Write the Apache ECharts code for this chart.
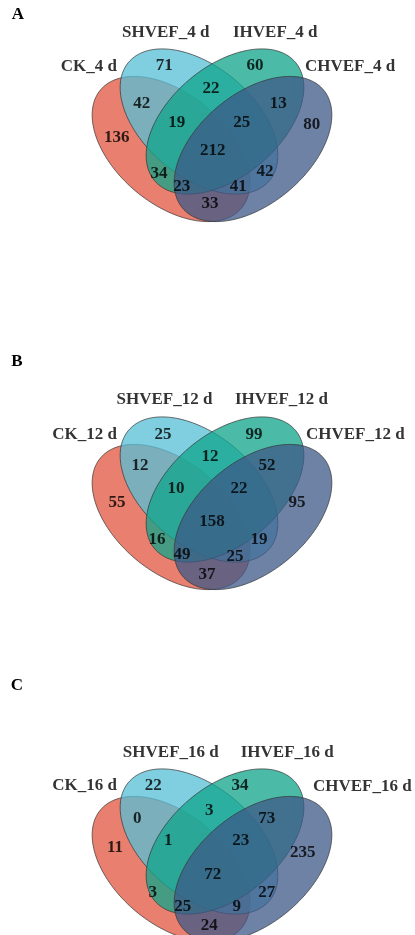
<!DOCTYPE html>
<html><head><meta charset="utf-8">
<script src="https://cdn.jsdelivr.net/npm/echarts@6/dist/echarts.min.js"></script>
<style>html,body{margin:0;padding:0;background:#fff}#c{width:415px;height:935px}</style>
</head><body><div id="c"></div>
<script>
// ---------- DATA ----------
const panelLetters = ['A', 'B', 'C'];
const setNamesA = ['CK_4 d', 'SHVEF_4 d', 'IHVEF_4 d', 'CHVEF_4 d'];
const setNamesB = ['CK_12 d', 'SHVEF_12 d', 'IHVEF_12 d', 'CHVEF_12 d'];
const setNamesC = ['CK_16 d', 'SHVEF_16 d', 'IHVEF_16 d', 'CHVEF_16 d'];
// region order: CK, SH, IH, CH, CK∩SH, SH∩IH, IH∩CH, CK∩SH∩IH, SH∩IH∩CH, all, CK∩IH, SH∩CH, CK∩IH∩CH, CK∩SH∩CH, CK∩CH
const regionKeys = ['A','B','C','D','AB','BC','CD','ABC','BCD','ABCD','AC','BD','ACD','ABD','AD'];
const countsA = [136, 71, 60, 80, 42, 22, 13, 19, 25, 212, 34, 42, 23, 41, 33];
const countsB = [55, 25, 99, 95, 12, 12, 52, 10, 22, 158, 16, 19, 49, 25, 37];
const countsC = [11, 22, 34, 235, 0, 3, 73, 1, 23, 72, 3, 27, 25, 9, 24];

// ---------- LAYOUT (panel-local units, 1 unit = 1 px) ----------
const panelTops = [0, 368, 720];
const panelHeight = 215;
const letterPos = [[18, 15], [17, 362], [17, 686]];
const ellipseShapes = [ // cx, cy, a, b, angle(deg)
  [171, 149, 92, 55, 40],
  [199, 121.5, 92, 55, 40],
  [225, 121.5, 92, 55, -40],
  [253, 149, 92, 55, -40]
];
const ellipseFills = ['rgba(226,84,62,0.75)', 'rgba(85,191,215,0.75)', 'rgba(15,164,139,0.75)', 'rgba(62,88,135,0.75)'];
const regionPosA = [[116.7,137.3],[164.3,66],[255,66],[311.7,125],[141.7,104],[211,88.3],[278.3,104],[176.7,122.7],[241.7,122.7],[212.7,150.7],[159,173.3],[265,171.7],[181.7,186.7],[238.3,186.7],[210,204]];
const regionPosB = [[117,135],[163,67],[254,67],[297,135],[140,97.7],[210,89],[267,97.7],[176,121],[239,121],[212,154],[157,172],[259,172],[182,187],[235,189],[207,207]];
const regionPosC = [[115,127.7],[153.3,65.7],[240,65.7],[302.7,132.3],[137.3,99],[209.3,90.7],[266.7,99],[168.3,120.7],[240.7,120.7],[212.7,154.3],[152.7,172.7],[266.7,172.7],[182.7,186.7],[236.7,186.7],[209.3,206]];
// set label anchors: [x, y, align]
const setLabelPosA = [[117,67,'right'],[165.7,33,'center'],[233,33,'left'],[305,67,'left']];
const setLabelPosB = [[117,67,'right'],[164.5,32,'center'],[235,32,'left'],[306,67,'left']];
const setLabelPosC = [[117,66,'right'],[170.8,33,'center'],[240.7,33,'left'],[313,67,'left']];

const FONT = '"Liberation Serif","Times New Roman",serif';
const panels = [
  {names: setNamesA, counts: countsA, pos: regionPosA, lab: setLabelPosA},
  {names: setNamesB, counts: countsB, pos: regionPosB, lab: setLabelPosB},
  {names: setNamesC, counts: countsC, pos: regionPosC, lab: setLabelPosC}
];

const textStyle = {color: '#000', fontFamily: FONT, fontWeight: 'bold', fontSize: 17,
  textBorderWidth: 0, textShadowBlur: 0};

const grids = [], xAxes = [], yAxes = [], series = [];
panels.forEach((p, i) => {
  grids.push({left: 0, top: panelTops[i], width: 415, height: panelHeight});
  xAxes.push({type: 'value', gridIndex: i, min: 0, max: 415, show: false});
  yAxes.push({type: 'value', gridIndex: i, min: 0, max: panelHeight, inverse: true, show: false});
  series.push({
    type: 'custom', xAxisIndex: i, yAxisIndex: i, silent: true, clip: false,
    data: ellipseShapes.map((e, k) => [k]),
    renderItem: (params, api) => {
      const k = api.value(0);
      const [cx, cy, a, b, ang] = ellipseShapes[k];
      const phi = ang * Math.PI / 180, c = Math.cos(phi), s = Math.sin(phi);
      const pts = [];
      for (let t = 0; t < 160; t++) {
        const th = t / 160 * Math.PI * 2;
        const u = a * Math.cos(th), v = b * Math.sin(th);
        pts.push(api.coord([cx + u * c - v * s, cy + u * s + v * c]));
      }
      return {type: 'polygon', shape: {points: pts},
        style: {fill: ellipseFills[k], stroke: 'rgba(55,55,55,0.8)', lineWidth: 0.9}};
    }
  });
  series.push({
    type: 'scatter', xAxisIndex: i, yAxisIndex: i, symbolSize: 0, silent: true, clip: false,
    data: p.counts.map((v, k) => ({value: [p.pos[k][0], p.pos[k][1], v], name: regionKeys[k]})),
    label: Object.assign({show: true, position: 'inside', formatter: d => String(d.value[2])}, textStyle)
  });
  series.push({
    type: 'scatter', xAxisIndex: i, yAxisIndex: i, symbolSize: 0, silent: true, clip: false,
    data: p.names.map((n, k) => ({value: [p.lab[k][0], p.lab[k][1]], name: n,
      label: {align: p.lab[k][2]}})),
    label: Object.assign({show: true, position: 'inside', formatter: d => d.name, verticalAlign: 'middle'}, textStyle)
  });
});

const chart = echarts.init(document.getElementById('c'), null, {renderer: 'canvas'});
chart.setOption({
  animation: false,
  backgroundColor: '#fff',
  grid: grids, xAxis: xAxes, yAxis: yAxes, series: series,
  graphic: panelLetters.map((L, i) => ({type: 'text', x: letterPos[i][0], y: letterPos[i][1],
    style: {text: L, font: 'bold 17px ' + FONT, fill: '#000', align: 'center', verticalAlign: 'middle'}}))
});
</script></body></html>
